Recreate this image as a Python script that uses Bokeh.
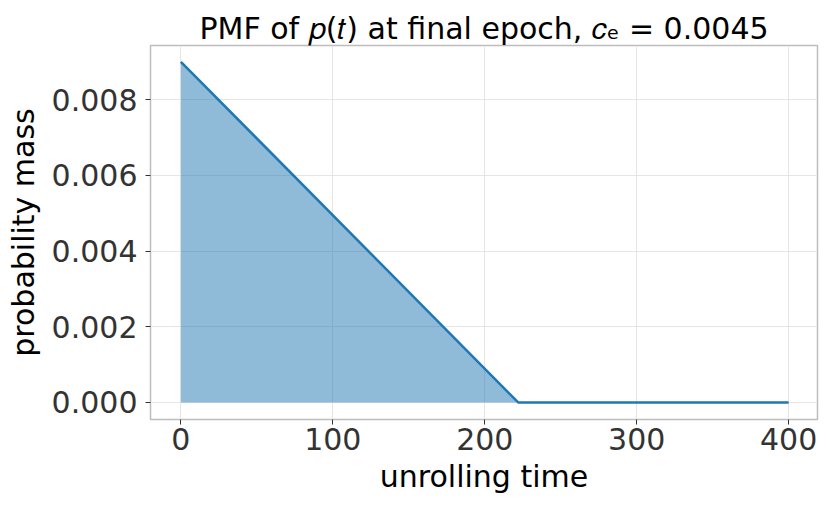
from bokeh.plotting import figure
from bokeh.models import Range1d, FixedTicker, CustomJSTickFormatter
from bokeh.embed import file_html
from bokeh.resources import INLINE

# data: polyline vertices of the PMF
t_vals = [0, 222, 400]
p_vals = [0.009, 0.0, 0.0]
zero_vals = [0.0, 0.0, 0.0]
x_ticks = [0, 100, 200, 300, 400]
y_ticks = [0.0, 0.002, 0.004, 0.006, 0.008]

FONT = "DejaVu Sans"
BLUE = "#1f77b4"

p = figure(width=830, height=509, output_backend="svg", toolbar_location=None,
           x_range=Range1d(-20, 419), y_range=Range1d(-0.00045, 0.00943),
           min_border_left=150, min_border_right=13, min_border_top=45, min_border_bottom=90)

p.title.text = "PMF of \U0001D45D(\U0001D461) at final epoch, \U0001D450\u2091 = 0.0045"
p.title.text_font = FONT
p.title.text_font_size = "30px"
p.title.text_font_style = "normal"
p.title.align = "center"
p.title.text_color = "#000000"
p.title.offset = 0
p.title.standoff = 0

p.varea(x=t_vals, y1=zero_vals, y2=p_vals, fill_color=BLUE, fill_alpha=0.5)
p.line(t_vals, p_vals, line_color=BLUE, line_width=2.5)

p.xaxis.ticker = FixedTicker(ticks=x_ticks)
p.yaxis.ticker = FixedTicker(ticks=y_ticks)
p.yaxis.formatter = CustomJSTickFormatter(code="return tick.toFixed(3);")

p.xaxis.axis_label = "unrolling time"
p.yaxis.axis_label = "probability mass"
for ax in (p.xaxis, p.yaxis):
    ax.axis_label_text_font = FONT
    ax.axis_label_text_font_size = "30px"
    ax.axis_label_text_font_style = "normal"
    ax.axis_label_text_color = "#000000"
    ax.major_label_text_font = FONT
    ax.major_label_text_font_size = "30px"
    ax.major_label_text_color = "#333333"
    ax.axis_line_color = None
    ax.major_tick_line_color = "#333333"
    ax.major_tick_in = 0
    ax.major_tick_out = 5
    ax.minor_tick_line_color = None
p.xaxis.major_label_standoff = 3
p.xaxis.axis_label_standoff = 6
p.yaxis.major_label_standoff = 8
p.yaxis.axis_label_standoff = 8

p.xgrid.grid_line_color = "#e5e5e5"
p.ygrid.grid_line_color = "#e5e5e5"
p.outline_line_color = "#bdbdbd"
p.outline_line_width = 1.5
p.background_fill_color = "white"
p.border_fill_color = "white"

open("out.html", "w").write(file_html(p, INLINE))
